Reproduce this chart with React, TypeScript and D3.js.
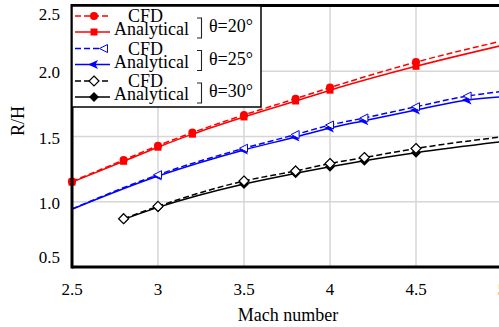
import React from 'react';
import * as d3 from 'd3';

// Mach numbers where each curve is sampled
const mach20 = [2.5, 2.8, 3.0, 3.2, 3.5, 3.8, 4.0, 4.5, 5.0];
const cfd20 = [1.155, 1.32, 1.43, 1.53, 1.665, 1.79, 1.875, 2.07, 2.232];
const ana20 = [1.15, 1.31, 1.418, 1.518, 1.65, 1.772, 1.855, 2.038, 2.198];
const marks20 = [2.5, 2.8, 3.0, 3.2, 3.5, 3.8, 4.0, 4.5];

const mach25 = [2.5, 3.0, 3.5, 3.8, 4.0, 4.2, 4.5, 4.8, 5.0];
const cfd25 = [0.945, 1.207, 1.41, 1.515, 1.588, 1.642, 1.728, 1.81, 1.845];
const ana25 = [0.943, 1.197, 1.397, 1.496, 1.565, 1.621, 1.703, 1.78, 1.805];
const marks25 = [3.0, 3.5, 3.8, 4.0, 4.2, 4.5, 4.8];

const mach30 = [2.8, 3.0, 3.5, 3.8, 4.0, 4.2, 4.5, 5.0];
const cfd30 = [0.87, 0.965, 1.159, 1.236, 1.293, 1.339, 1.408, 1.498];
const ana30 = [0.865, 0.957, 1.136, 1.218, 1.269, 1.315, 1.376, 1.46];
const marks30 = [2.8, 3.0, 3.5, 3.8, 4.0, 4.2, 4.5];

const xTicks = [2.5, 3, 3.5, 4, 4.5, 5];
const yTicks = [0.5, 1.0, 1.5, 2.0, 2.5];
const thetaLabels = ['θ=20°', 'θ=25°', 'θ=30°'];

const FONT = '"Liberation Serif", "Times New Roman", serif';

type Shape = 'circle' | 'square' | 'triOpen' | 'arrow' | 'diamondOpen' | 'diamond';

function Marker({ shape, cx, cy, color }: { shape: Shape; cx: number; cy: number; color: string }) {
  switch (shape) {
    case 'circle':
      return <circle cx={cx} cy={cy} r={4} fill={color} />;
    case 'square':
      return <rect x={cx - 3.5} y={cy - 3.5} width={7} height={7} fill={color} />;
    case 'triOpen':
      return (
        <polygon
          points={`${cx - 4.5},${cy} ${cx + 3.5},${cy - 4} ${cx + 3.5},${cy + 4}`}
          fill="#fff"
          stroke={color}
          strokeWidth={1}
        />
      );
    case 'arrow':
      return (
        <polygon
          points={`${cx - 6},${cy} ${cx + 4},${cy - 4.5} ${cx + 1.5},${cy} ${cx + 4},${cy + 4.5}`}
          fill={color}
        />
      );
    case 'diamondOpen':
      return (
        <polygon
          points={`${cx},${cy - 5} ${cx + 5},${cy} ${cx},${cy + 5} ${cx - 5},${cy}`}
          fill="#fff"
          stroke={color}
          strokeWidth={1.2}
        />
      );
    default:
      return (
        <polygon
          points={`${cx},${cy - 5} ${cx + 5},${cy} ${cx},${cy + 5} ${cx - 5},${cy}`}
          fill={color}
        />
      );
  }
}

const series = [
  { mach: mach20, cfd: cfd20, ana: ana20, marks: marks20, color: '#ff0000', cfdShape: 'circle' as Shape, anaShape: 'square' as Shape },
  { mach: mach25, cfd: cfd25, ana: ana25, marks: marks25, color: '#0000ff', cfdShape: 'triOpen' as Shape, anaShape: 'arrow' as Shape },
  { mach: mach30, cfd: cfd30, ana: ana30, marks: marks30, color: '#000000', cfdShape: 'diamondOpen' as Shape, anaShape: 'diamond' as Shape },
];

export default function App() {
  const width = 499;
  const height = 327;

  const x = d3.scaleLinear().domain([2.5, 5]).range([72, 502]);
  const y = d3.scaleLinear().domain([0.5, 2.5]).range([267, 6]);

  const line = d3
    .line<[number, number]>()
    .x((d) => x(d[0]))
    .y((d) => y(d[1]))
    .curve(d3.curveMonotoneX);

  const top = y(2.5);
  const bottom = y(0.5);

  return (
    <svg
      width={width}
      height={height}
      style={{ position: 'absolute', left: 0, top: 0, background: '#fff' }}
      fontFamily={FONT}
    >
      <rect x={0} y={0} width={width} height={height} fill="#fff" />

      {/* grid */}
      {xTicks.slice(1).map((t) => (
        <line key={'gx' + t} x1={x(t)} x2={x(t)} y1={top} y2={bottom} stroke="#d6d6d6" strokeWidth={1.5} />
      ))}
      {yTicks.slice(1, -1).map((t) => (
        <line key={'gy' + t} x1={x(2.5)} x2={x(5)} y1={y(t)} y2={y(t)} stroke="#d6d6d6" strokeWidth={1.5} />
      ))}

      {/* curves */}
      {series.map((s, i) => {
        const cfdPts = s.mach.map((m, j) => [m, s.cfd[j]] as [number, number]);
        const anaPts = s.mach.map((m, j) => [m, s.ana[j]] as [number, number]);
        return (
          <g key={'s' + i}>
            <path d={line(anaPts) || ''} fill="none" stroke={s.color} strokeWidth={1.5} />
            <path d={line(cfdPts) || ''} fill="none" stroke={s.color} strokeWidth={1.5} strokeDasharray="6,3" />
            {s.marks.map((m) => {
              const j = s.mach.indexOf(m);
              return <Marker key={'a' + m} shape={s.anaShape} cx={x(m)} cy={y(s.ana[j])} color={s.color} />;
            })}
            {s.marks.map((m) => {
              const j = s.mach.indexOf(m);
              return <Marker key={'c' + m} shape={s.cfdShape} cx={x(m)} cy={y(s.cfd[j])} color={s.color} />;
            })}
          </g>
        );
      })}

      {/* frame */}
      <line x1={x(2.5)} x2={width} y1={top - 0.5} y2={top - 0.5} stroke="#000" strokeWidth={3} />
      <line x1={x(2.5)} x2={width} y1={bottom} y2={bottom} stroke="#000" strokeWidth={3} />
      <line x1={x(2.5)} x2={x(2.5)} y1={top - 2} y2={bottom + 1.5} stroke="#000" strokeWidth={3} />

      {/* tick labels */}
      {xTicks.map((t) => (
        <text key={'tx' + t} x={x(t)} y={295} textAnchor="middle" fontSize={17}>
          {String(t)}
        </text>
      ))}
      {yTicks.map((t) => (
        <text
          key={'ty' + t}
          x={60}
          y={Math.min(263, Math.max(20, y(t) + 7))}
          textAnchor="end"
          fontSize={17}
        >
          {t.toFixed(1)}
        </text>
      ))}

      <text x={288} y={321} textAnchor="middle" fontSize={18}>
        Mach number
      </text>
      <text transform="translate(24,121) rotate(-90)" textAnchor="middle" fontSize={18}>
        R/H
      </text>

      {/* legend */}
      <rect x={x(2.5)} y={top} width={189} height={101} fill="#fff" stroke="#000" strokeWidth={1.5} />
      {series.map((s, i) => {
        const oy = i * 32.5;
        return (
          <g key={'lg' + i}>
            <line x1={75} x2={110} y1={16 + oy} y2={16 + oy} stroke={s.color} strokeWidth={1.5} strokeDasharray="6,3" />
            <Marker shape={s.cfdShape} cx={i === 1 ? 104 : 94} cy={16 + oy} color={s.color} />
            <line x1={75} x2={110} y1={32 + oy} y2={32 + oy} stroke={s.color} strokeWidth={1.5} />
            <Marker shape={s.anaShape} cx={94} cy={32 + oy} color={s.color} />
            <text x={128} y={22 + oy} fontSize={18}>
              CFD
            </text>
            <text x={114} y={35 + oy} fontSize={18}>
              Analytical
            </text>
            {/* square bracket joining the CFD/Analytical pair */}
            <path
              d={`M197,${18 + oy} H201.5 V${38 + oy} H197`}
              fill="none"
              stroke="#222"
              strokeWidth={1.1}
            />
            <text x={209} y={32 + oy} fontSize={18}>
              {thetaLabels[i]}
            </text>
          </g>
        );
      })}
    </svg>
  );
}
